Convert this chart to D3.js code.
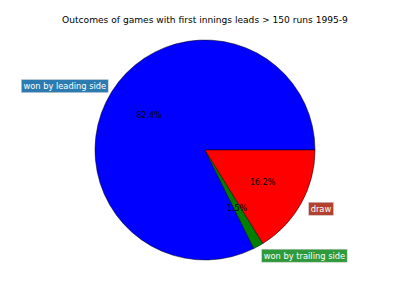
<!DOCTYPE html>
<html>
<head>
<meta charset="utf-8">
<script src="https://cdn.jsdelivr.net/npm/d3@7"></script>
<style>
  body { margin: 0; background: #fff; }
  text { font-family: "DejaVu Sans", sans-serif; }
</style>
</head>
<body>
<svg id="chart"></svg>
<script>
// Outcome categories and their shares (%)
const outcomes = ["won by leading side", "won by trailing side", "draw"];
const shares = [82.4, 1.5, 16.2];
const sliceColors = ["#0000ff", "#008000", "#ff0000"];
const labelColors = ["#2b7bb0", "#2f9a3c", "#b3412f"];

const width = 400, height = 300;
const cx = 205, cy = 150, radius = 110;

const svg = d3.select("#chart")
  .attr("width", width)
  .attr("height", height);

svg.append("text")
  .attr("x", 205)
  .attr("y", 23)
  .attr("text-anchor", "middle")
  .attr("font-size", 9.1)
  .text("Outcomes of games with first innings leads > 150 runs 1995-9");

const data = outcomes.map((o, i) => ({ name: o, value: shares[i], color: sliceColors[i], lab: labelColors[i] }));

// matplotlib style: start at east, go counter-clockwise
const pie = d3.pie()
  .value(d => d.value)
  .sort(null)
  .startAngle(Math.PI / 2)
  .endAngle(Math.PI / 2 - 2 * Math.PI);

const arc = d3.arc().innerRadius(0).outerRadius(radius);
const arcs = pie(data);

const g = svg.append("g").attr("transform", `translate(${cx},${cy})`);

g.selectAll("path.slice")
  .data(arcs)
  .join("path")
  .attr("class", "slice")
  .attr("d", arc)
  .attr("fill", d => d.data.color)
  .attr("stroke", "#000")
  .attr("stroke-width", 0.5);

// mid angle in d3 convention (0 = north, clockwise)
const mid = d => (d.startAngle + d.endAngle) / 2;

// percentage labels
g.selectAll("text.pct")
  .data(arcs)
  .join("text")
  .attr("class", "pct")
  .attr("x", d => 0.6 * radius * Math.sin(mid(d)))
  .attr("y", d => -0.6 * radius * Math.cos(mid(d)))
  .attr("text-anchor", "middle")
  .attr("dy", "0.35em")
  .attr("font-size", 8)
  .text(d => d.data.value.toFixed(1) + "%");

// outer labels with boxes
const labels = g.selectAll("g.lab")
  .data(arcs)
  .join("g")
  .attr("class", "lab")
  .attr("transform", d => {
    const s = Math.sin(mid(d));
    const x = 1.1 * radius * s + (s < 0 ? 4 : 0);
    const y = -1.1 * radius * Math.cos(mid(d));
    return `translate(${x},${y})`;
  });

labels.each(function (d) {
  const sel = d3.select(this);
  const right = Math.sin(mid(d)) < 0;
  const t = sel.append("text")
    .attr("text-anchor", right ? "end" : "start")
    .attr("dy", "0.35em")
    .attr("font-size", 8.3)
    .attr("fill", "#fff")
    .text(d.data.name);
  const bb = t.node().getBBox();
  sel.insert("rect", "text")
    .attr("x", bb.x - 2)
    .attr("y", bb.y - 1.5)
    .attr("width", bb.width + 4)
    .attr("height", bb.height + 3)
    .attr("fill", d.data.lab)
    .attr("stroke", "#ccc")
    .attr("stroke-width", 0.5);
});
</script>
</body>
</html>
